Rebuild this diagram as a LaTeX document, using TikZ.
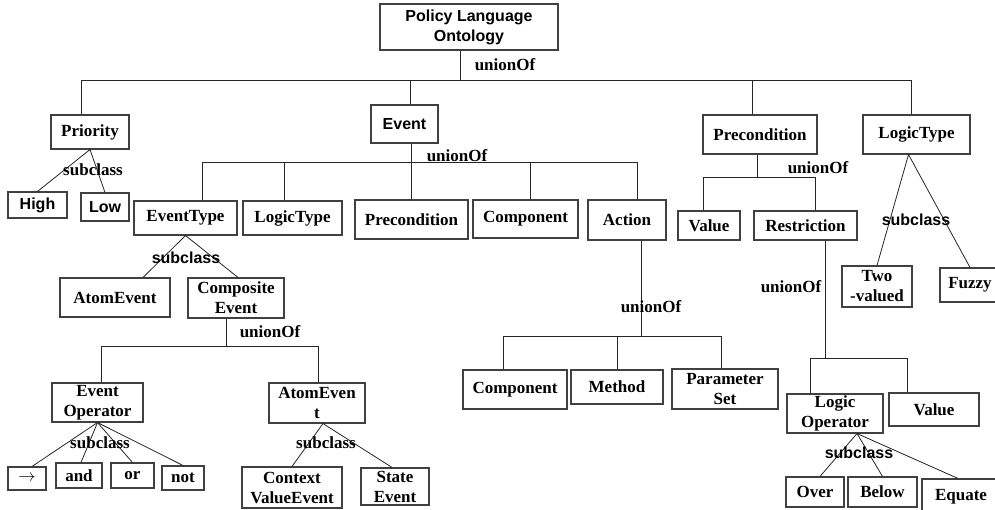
\documentclass[tikz,border=0pt]{standalone}
\usepackage{fontspec}
\setmainfont{Liberation Serif}
\newfontfamily\heifont{Liberation Sans}
\usepackage{tikz}
\newcommand{\tnr}{\fontsize{17}{20}\selectfont\bfseries}
\newcommand{\hei}{\heifont\fontsize{16}{20}\selectfont\bfseries}
\tikzset{
  box/.style={draw=black!75, line width=1.1pt, inner sep=0pt, align=center, font=\tnr},
  bx/.style n args={2}{box, minimum width=#1, minimum height=#2},
  lnk/.style={line width=0.8pt, black!85},
  lbl/.style={inner sep=0pt, font=\tnr},
  hlbl/.style={inner sep=0pt, font=\hei},
}

\begin{document}
\begin{tikzpicture}[x=1pt, y=-1pt]
\useasboundingbox (0,0) rectangle (995,510);

% top level
\node[bx={178}{46}, font=\hei] (root) at (469,27) {Policy Language\\Ontology};
\node[bx={78}{34}] (prio) at (90,132) {Priority};
\node[bx={67}{38}, font=\hei] (event) at (404.5,124) {Event};
\node[bx={114}{39}] (precA) at (760,134.5) {Precondition};
\node[bx={107}{39}] (ltypeA) at (916.5,134.5) {LogicType};
\coordinate (j0) at (460,80);
\draw[lnk] (root.south -| j0) -- (j0);
\foreach \n/\s in {prio/-9, event/5.5, precA/-8, ltypeA/-5.5}
  \draw[lnk] ([xshift=\s]\n.north) -- ([xshift=\s]\n.north |- j0);
\draw[lnk] ([xshift=-9]prio.north |- j0) -- ([xshift=-5.5]ltypeA.north |- j0);
\node[lbl] (u0) at (505,65) {unionOf};

% priority
\node[bx={59}{26}, font=\hei] (high) at (37.5,205) {High};
\node[bx={48}{28}, font=\hei] (low) at (105,207) {Low};
\draw[lnk] (high.north) -- (prio.south) -- (low.north);
\node[lbl] (s0) at (93,170) {subclass};

% event
\node[bx={103}{34}] (etype) at (185.5,218) {EventType};
\node[bx={99}{34}] (ltypeB) at (292.5,218) {LogicType};
\node[bx={113}{39}] (precB) at (411.5,219.5) {Precondition};
\node[bx={105}{38}] (compA) at (525.5,219) {Component};
\node[bx={78}{40}] (action) at (627,220) {Action};
\coordinate (j1) at (410,162);
\draw[lnk] (event.south -| precB.north) -- (precB.north);
\foreach \n/\s in {etype/16.5, ltypeB/-8.5, compA/4.5, action/10}
  \draw[lnk] ([xshift=\s]\n.north) -- ([xshift=\s]\n.north |- j1);
\draw[lnk] ([xshift=16.5]etype.north |- j1) -- ([xshift=10]action.north |- j1);
\node[lbl] (u1) at (457,156) {unionOf};

% precondition
\node[bx={62}{29}] (valA) at (709,225.5) {Value};
\node[bx={103}{29}] (restr) at (805.5,225.5) {Restriction};
\coordinate (j2) at (757,177);
\draw[lnk] ([xshift=-3]precA.south) -- ([xshift=-3]precA.south |- j2);
\foreach \n/\s in {valA/-6, restr/9.5}
  \draw[lnk] ([xshift=\s]\n.north) -- ([xshift=\s]\n.north |- j2);
\draw[lnk] ([xshift=-6]valA.north |- j2) -- ([xshift=9.5]restr.north |- j2);
\node[lbl] (u2) at (818,168) {unionOf};

% logic type
\node[bx={70}{41}] (two) at (877,286.5) {Two\\-valued};
\node[bx={60}{34}] (fuzzy) at (970,285) {Fuzzy};
\draw[lnk] (two.north) -- ([xshift=-8]ltypeA.south) -- (fuzzy.north);
\node[hlbl] (s1) at (916,220) {subclass};

% restriction
\node[bx={96}{39}] (lop) at (835,413.5) {Logic\\Operator};
\node[bx={90}{33}] (valB) at (934,409.5) {Value};
\coordinate (j3) at (825,358);
\draw[lnk] ([xshift=19.5]restr.south) -- ([xshift=19.5]restr.south |- j3);
\foreach \n/\s in {lop/-25, valB/-27}
  \draw[lnk] ([xshift=\s]\n.north) -- ([xshift=\s]\n.north |- j3);
\draw[lnk] ([xshift=-25]lop.north |- j3) -- ([xshift=-27]valB.north |- j3);
\node[lbl] (u3) at (791,287) {unionOf};

% logic operator
\node[bx={58}{30}] (over) at (815,492) {Over};
\node[bx={69}{30}] (below) at (882.5,492) {Below};
\node[bx={78}{36}] (equate) at (961,497) {Equate};
\foreach \n/\s in {over/5, below/0, equate/-3}
  \draw[lnk] ([xshift=22]lop.south) -- ([xshift=\s]\n.north);
\node[hlbl] (s2) at (859,453) {subclass};

% action
\node[bx={104}{39}] (compB) at (515,389.5) {Component};
\node[bx={92}{34}] (method) at (617,387) {Method};
\node[bx={106}{40}] (param) at (725,389) {Parameter\\Set};
\coordinate (j4) at (641,336);
\draw[lnk] ([xshift=14]action.south) -- ([xshift=14]action.south |- j4);
\foreach \n/\s in {compB/-12, method/0, param/-4}
  \draw[lnk] ([xshift=\s]\n.north) -- ([xshift=\s]\n.north |- j4);
\draw[lnk] ([xshift=-12]compB.north |- j4) -- ([xshift=-4]param.north |- j4);
\node[lbl] (u4) at (651,307) {unionOf};

% event type
\node[bx={110}{39}] (atomA) at (115,297.5) {AtomEvent};
\node[bx={96}{40}] (compos) at (236,298) {Composite\\Event};
\draw[lnk] ([xshift=28]atomA.north) -- (etype.south) -- ([xshift=2]compos.north);
\node[hlbl] (s3) at (186,258) {subclass};

% composite event
\node[bx={91}{39}] (evop) at (97.5,402.5) {Event\\Operator};
\node[bx={96}{40}] (atomB) at (317,403) {AtomEven\\t};
\coordinate (j5) at (226,346);
\draw[lnk] ([xshift=-10]compos.south) -- ([xshift=-10]compos.south |- j5);
\foreach \n/\s in {evop/3.5, atomB/1}
  \draw[lnk] ([xshift=\s]\n.north) -- ([xshift=\s]\n.north |- j5);
\draw[lnk] ([xshift=3.5]evop.north |- j5) -- ([xshift=1]atomB.north |- j5);
\node[lbl] (u5) at (270,332) {unionOf};

% event operator
\node[bx={38}{23}] (arrw) at (27,478.5) {$\rightarrow$};
\node[bx={46}{25}] (andn) at (79,475.5) {and};
\node[bx={43}{25}] (orn) at (132.5,475.5) {or};
\node[bx={42}{24}] (notn) at (183,478) {not};
\foreach \n/\s in {arrw/5, andn/2, orn/0, notn/0}
  \draw[lnk] (evop.south) -- ([xshift=\s]\n.north);
\node[lbl] (s4) at (100,443) {subclass};

% atom event
\node[bx={100}{41}] (ctx) at (292,487.5) {Context\\ValueEvent};
\node[bx={68}{37}] (state) at (395,486.5) {State\\Event};
\draw[lnk] (ctx.north) -- ([xshift=6]atomB.south) -- ([xshift=-3]state.north);
\node[lbl] (s5) at (326,443) {subclass};
\end{tikzpicture}
\end{document}
